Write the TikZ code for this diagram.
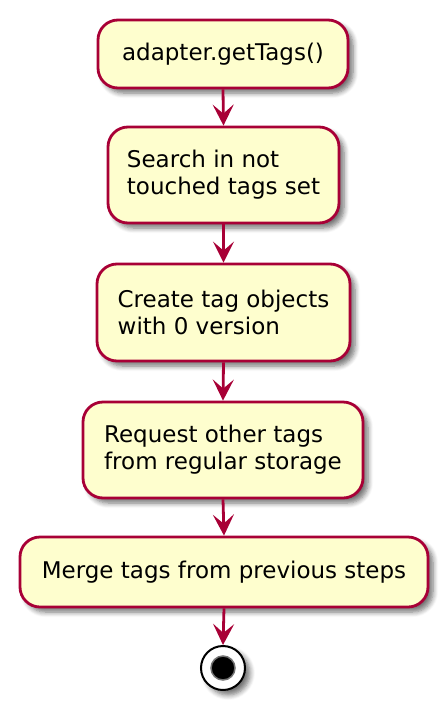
\documentclass[tikz,border=0pt]{standalone}
\usepackage{fontspec}
\setmainfont{DejaVu Sans}
\usetikzlibrary{arrows.meta,shadows.blur}
\definecolor{umlred}{HTML}{A80036}
\definecolor{umlfill}{HTML}{FEFECE}
\tikzset{
  actbox/.style={draw=umlred, fill=umlfill, line width=2.8pt, rounded corners=20pt,
    inner sep=0pt, align=left, font=\fontsize{23}{27}\selectfont,
    blur shadow={shadow xshift=5pt, shadow yshift=-5pt, shadow blur radius=5pt, shadow blur steps=6, shadow opacity=55}},
  flow/.style={draw=umlred, line width=2.8pt, -{Stealth[length=21pt, width=21pt, inset=9pt]}},
  stopouter/.style={circle, draw=black, fill=white, line width=2pt, minimum size=44pt, inner sep=0pt,
    blur shadow={shadow xshift=5pt, shadow yshift=-5pt, shadow blur radius=5pt, shadow blur steps=6, shadow opacity=55}},
  stopinner/.style={circle, fill=black, draw=black!55, line width=1.5pt, minimum size=24pt, inner sep=0pt}
}
\begin{document}
\begin{tikzpicture}[x=1pt, y=-1pt]
\useasboundingbox (0,0) rectangle (446,710);
\node[actbox, minimum width=250pt, minimum height=68pt] (b1) at (223,54) {adapter.getTags()};
\node[actbox, minimum width=231pt, minimum height=96pt] (b2) at (223.5,175) {Search in not\\touched tags set};
\node[actbox, minimum width=253pt, minimum height=97pt] (b3) at (223.5,312.5) {Create tag objects\\with 0 version};
\node[actbox, minimum width=280pt, minimum height=96pt] (b4) at (223,450) {Request other tags\\from regular storage};
\node[actbox, minimum width=408pt, minimum height=70pt] (b5) at (224,572) {Merge tags from previous steps};
\node[stopouter] (stop) at (223,668) {};
\node[stopinner] (stopdot) at (stop.center) {};
\draw[flow] (b1.south) -- (b2.north);
\draw[flow] (b2.south) -- (b3.north);
\draw[flow] (b3.south) -- (b4.north);
\draw[flow] (b4.south) -- (b5.north);
\draw[flow] (b5.south) -- (stop.north);
\end{tikzpicture}
\end{document}
